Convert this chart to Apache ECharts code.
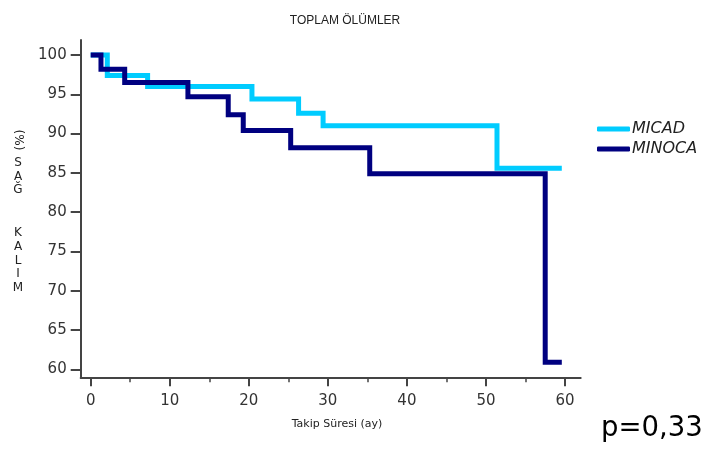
<!DOCTYPE html>
<html>
<head>
<meta charset="utf-8">
<script src="https://cdn.jsdelivr.net/npm/echarts@6/dist/echarts.min.js"></script>
<style>
html,body{margin:0;padding:0;background:#fff;}
#chart{width:706px;height:452px;}
</style>
</head>
<body>
<div id="chart"></div>
<script>
// ---- data ----
const titleText = 'TOPLAM ÖLÜMLER';
const seriesNames = ['MICAD', 'MINOCA'];
// Kaplan-Meier steps: [time (months), survival %]
const micad = [[0,100],[2.1,97.4],[7.2,96.0],[20.4,94.4],[26.3,92.6],[29.4,91.0],[51.4,85.6],[59.6,85.6]];
const minoca = [[0,100],[1.3,98.2],[4.3,96.5],[12.3,94.7],[17.4,92.4],[19.3,90.4],[25.3,88.2],[35.3,84.9],[57.5,60.9],[59.6,60.9]];
const xTicks = [0,10,20,30,40,50,60];
const xMinorTicks = [5,15,25,35,45,55];
const yTicks = [60,65,70,75,80,85,90,95,100];
const xName = 'Takip Süresi (ay)';
const yNameLetters = ['S','A','Ğ','','','K','A','L','I','M'];
const yNamePrefix = '(%)';
const pText = 'p=0,33';

const chart = echarts.init(document.getElementById('chart'), null, {renderer:'canvas'});
const axisColor = '#444';
const textColor = '#222';

const letterGraphics = [];
const letterY = [163,176.5,190,203,216,233,247,260.5,274,287.5];
yNameLetters.forEach((ch,i)=>{
  if(!ch) return;
  letterGraphics.push({type:'text', x:18, y:letterY[i], style:{text:ch, font:'12px "DejaVu Sans"', fill:textColor, textAlign:'center', textVerticalAlign:'middle'}});
});

const option = {
  animation:false,
  backgroundColor:'#fff',
  title:{text:titleText, left:340, top:10, textAlign:'center',
    textStyle:{fontFamily:'Liberation Sans', fontSize:12, fontWeight:'normal', color:textColor}},
  legend:{orient:'vertical', left:592, top:116, itemWidth:33, itemHeight:5, itemGap:4, icon:'roundRect',
    data:seriesNames,
    textStyle:{fontFamily:'DejaVu Sans', fontStyle:'italic', fontSize:16, lineHeight:16, color:textColor, padding:[0,0,0,-3]}},
  grid:{left:80.7, right:125.3, top:40, bottom:74.3, containLabel:false},
  xAxis:[{
    type:'value', min:-1.265, max:61.99, position:'bottom',
    axisLine:{show:true, onZero:false, lineStyle:{color:axisColor, width:2}},
    axisTick:{show:true, length:8.5, customValues:xTicks, lineStyle:{color:axisColor, width:2}},
    axisLabel:{show:true, customValues:xTicks, margin:16, fontFamily:'DejaVu Sans', fontSize:15, color:'#333'},
    splitLine:{show:false}
  },{
    type:'value', min:-1.265, max:61.99, position:'bottom', offset:0,
    axisLine:{show:false},
    axisTick:{show:true, length:4.5, customValues:xMinorTicks, lineStyle:{color:axisColor, width:1.5}},
    axisLabel:{show:false},
    splitLine:{show:false}
  }],
  yAxis:{
    type:'value', min:58.93, max:101.91,
    axisLine:{show:true, onZero:false, lineStyle:{color:axisColor, width:2}},
    axisTick:{show:true, length:10, customValues:yTicks, lineStyle:{color:axisColor, width:2}},
    axisLabel:{show:true, customValues:yTicks, margin:14, fontFamily:'DejaVu Sans', fontSize:15, color:'#333'},
    splitLine:{show:false}
  },
  graphic:[
    {type:'text', x:337, y:424.5, style:{text:xName, font:'11px "DejaVu Sans"', fill:textColor, textAlign:'center', textVerticalAlign:'middle'}},
    {type:'text', x:18, y:140, rotation:-Math.PI/2, style:{text:yNamePrefix, font:'12px "DejaVu Sans"', fill:textColor, textAlign:'center', textVerticalAlign:'middle'}},
    ...letterGraphics,
    {type:'text', x:601, y:429, style:{text:pText, font:'27.5px "DejaVu Sans"', fill:'#000', textAlign:'left', textVerticalAlign:'middle'}}
  ],
  series:[
    {name:seriesNames[0], type:'line', step:'end', data:micad, showSymbol:false, symbol:'none', xAxisIndex:0,
      color:'#00CCFF', lineStyle:{color:'#00CCFF', width:5, cap:'butt', join:'miter'}, z:2},
    {name:seriesNames[1], type:'line', step:'end', data:minoca, showSymbol:false, symbol:'none', xAxisIndex:0,
      color:'#000080', lineStyle:{color:'#000080', width:5, cap:'butt', join:'miter'}, z:3}
  ]
};
chart.setOption(option);
</script>
</body>
</html>
